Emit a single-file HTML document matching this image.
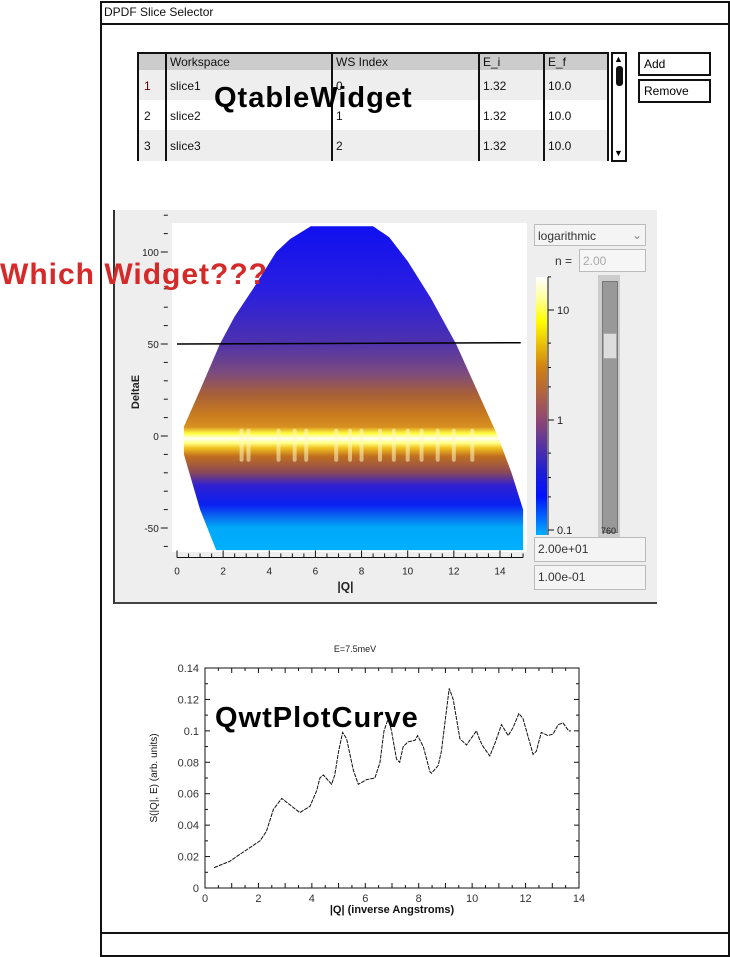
<!DOCTYPE html>
<html><head><meta charset="utf-8"><style>
body{margin:0;width:730px;height:957px;background:#fff;position:relative;overflow:hidden;font-family:"Liberation Sans",sans-serif;}
.a{position:absolute;}
.t{font-size:12px;color:#111;}
.btn{position:absolute;border:2px solid #111;background:#fff;font-size:12px;padding:3px 4px;box-sizing:border-box;}
.spin{position:absolute;border:1px solid #bbb;background:#f4f4f4;font-size:12px;color:#333;box-sizing:border-box;padding:4px 3px;}
</style></head><body>
<div class="a" style="left:100px;top:1px;width:626px;height:952px;border:2px solid #111;"></div>
<div class="a" style="left:100px;top:1px;width:628px;height:22px;border-bottom:2px solid #111;"></div>
<div class="a t" style="left:104px;top:5px;">DPDF Slice Selector</div>
<div class="a" style="left:100px;top:932px;width:628px;height:2px;background:#111;"></div>

<div class="a" style="left:137px;top:52px;width:472px;height:109px;border:2px solid #111;box-sizing:border-box;background:#fff;">
 <div class="a" style="left:0;top:0;width:468px;height:16px;background:#ccc;"></div>
 <div class="a" style="left:0;top:16px;width:468px;height:30px;background:#eee;"></div>
 <div class="a" style="left:0;top:76px;width:468px;height:31px;background:#eee;"></div>
 <div class="a" style="left:26px;top:0;width:2px;height:107px;background:#111;"></div>
 <div class="a" style="left:192px;top:0;width:2px;height:107px;background:#111;"></div>
 <div class="a" style="left:339px;top:0;width:2px;height:107px;background:#111;"></div>
 <div class="a" style="left:404px;top:0;width:2px;height:107px;background:#111;"></div>
 <div class="a t" style="left:31px;top:1px;">Workspace</div><div class="a t" style="left:197px;top:1px;">WS Index</div><div class="a t" style="left:344px;top:1px;">E_i</div><div class="a t" style="left:409px;top:1px;">E_f</div>
 <div class="a t" style="left:5px;top:25px;color:#600">1</div><div class="a t" style="left:31px;top:25px;">slice1</div><div class="a t" style="left:197px;top:25px;">0</div><div class="a t" style="left:344px;top:25px;">1.32</div><div class="a t" style="left:409px;top:25px;">10.0</div>
 <div class="a t" style="left:5px;top:55px;">2</div><div class="a t" style="left:31px;top:55px;">slice2</div><div class="a t" style="left:197px;top:55px;">1</div><div class="a t" style="left:344px;top:55px;">1.32</div><div class="a t" style="left:409px;top:55px;">10.0</div>
 <div class="a t" style="left:5px;top:85px;">3</div><div class="a t" style="left:31px;top:85px;">slice3</div><div class="a t" style="left:197px;top:85px;">2</div><div class="a t" style="left:344px;top:85px;">1.32</div><div class="a t" style="left:409px;top:85px;">10.0</div>
</div>
<div class="a" style="left:611px;top:52px;width:16px;height:110px;border:2px solid #111;box-sizing:border-box;background:#fff;">
 <div class="a" style="left:1px;top:0;font-size:9px;">▲</div>
 <div class="a" style="left:3px;top:12px;width:7px;height:20px;background:#111;border-radius:3px;"></div>
 <div class="a" style="left:1px;top:94px;font-size:9px;">▼</div>
</div>
<div class="btn" style="left:638px;top:52px;width:73px;height:24px;">Add</div>
<div class="btn" style="left:638px;top:79px;width:73px;height:24px;">Remove</div>
<div class="a" style="left:214px;top:82px;font-size:29px;font-weight:bold;letter-spacing:1px;">QtableWidget</div>

<div class="a" style="left:113px;top:210px;width:542px;height:392px;background:#eee;border-left:2px solid #333;border-bottom:2px solid #444;"></div>
<svg class="a" style="left:113px;top:210px" width="542" height="394" id="hm"></svg>
<div class="spin" style="left:534px;top:224px;width:112px;height:22px;">logarithmic<span style="position:absolute;right:3px;top:3px;color:#888">⌄</span></div>
<div class="a t" style="left:555px;top:254px;color:#333">n =</div>
<div class="spin" style="left:579px;top:249px;width:67px;height:23px;color:#aaa;background:#f6f6f6;">2.00</div>
<div class="a" style="left:598px;top:275px;width:22px;height:264px;background:#ccc;">
 <div class="a" style="left:4px;top:6px;width:14px;height:250px;background:#999;border:1px solid #777;"></div>
 <div class="a" style="left:5px;top:58px;width:12px;height:24px;background:#ddd;border:1px solid #aaa;"></div>
 <div class="a" style="left:3px;top:251px;font-size:9px;color:#222">760</div>
</div>
<div class="spin" style="left:534px;top:537px;width:112px;height:25px;">2.00e+01</div>
<div class="spin" style="left:534px;top:565px;width:112px;height:25px;">1.00e-01</div>
<div class="a" style="left:0px;top:258px;font-size:30px;font-weight:bold;color:#d42a2a;letter-spacing:1px;">Which Widget???</div>

<svg class="a" style="left:0;top:630px" width="730" height="300" id="lp"></svg>
<div class="a" style="left:215px;top:702px;font-size:29px;font-weight:bold;letter-spacing:1px;">QwtPlotCurve</div>

<script>
// ---- line chart data ----
const qVals=[0.34,0.93,1.18,2.06,2.3,2.56,2.87,3.55,3.93,4.18,4.3,4.43,4.74,4.86,4.99,5.15,5.3,5.55,5.74,6.05,6.36,6.55,6.7,6.86,6.98,7.17,7.29,7.42,7.6,7.86,7.96,8.17,8.42,8.48,8.73,8.85,8.98,9.14,9.29,9.54,9.79,10.16,10.29,10.41,10.66,10.85,11.1,11.35,11.53,11.75,11.9,12.28,12.4,12.59,12.84,13.03,13.22,13.4,13.62,13.7];
const sVals=[0.013,0.017,0.020,0.030,0.036,0.050,0.057,0.048,0.052,0.062,0.070,0.072,0.066,0.072,0.086,0.099,0.095,0.075,0.066,0.069,0.070,0.080,0.100,0.108,0.100,0.082,0.080,0.090,0.093,0.094,0.097,0.090,0.074,0.073,0.078,0.087,0.105,0.127,0.120,0.095,0.091,0.100,0.094,0.090,0.084,0.092,0.104,0.097,0.102,0.111,0.108,0.085,0.087,0.099,0.097,0.098,0.104,0.105,0.100,0.100];
const xTicks=[0,2,4,6,8,10,12,14];
const yTicks=[0,0.02,0.04,0.06,0.08,0.1,0.12,0.14];
const yTickLabels=["0","0.02","0.04","0.06","0.08","0.1","0.12","0.14"];
// ---- heatmap axes data ----
const hmXTicks=[0,2,4,6,8,10,12,14];
const hmYTicks=[-50,0,50,100];
const cbTicks=[0.1,1,10];
const cbTickLabels=["0.1","1","10"];
const sliceE=[50];
const braggQ=[2.8,3.1,4.4,5.1,5.6,6.9,7.5,8.0,8.8,9.4,10.0,10.6,11.3,12.0,12.8];

const NS="http://www.w3.org/2000/svg";
function mk(p,tag,attrs){const e=document.createElementNS(NS,tag);for(const k in attrs)e.setAttribute(k,attrs[k]);p.appendChild(e);return e;}

(function(){
const svg=document.getElementById('lp');
const X0=205,X1=579,Y0=258,Y1=38;
const xs=q=>X0+(q/14)*(X1-X0), ys=v=>Y0-(v/0.14)*(Y0-Y1);
const f='font-family:"Liberation Sans",sans-serif;';
let t=mk(svg,'text',{x:355,y:22,'text-anchor':'middle','font-size':'9','style':f,fill:'#222'});t.textContent='E=7.5meV';

const box=mk(svg,'rect',{x:X0,y:Y1,width:X1-X0,height:Y0-Y1,fill:'none',stroke:'#111','stroke-width':1});

for(let i=0;i<=28;i++){const v=i*0.5,x=xs(v),l=i%2?3:5;mk(svg,'line',{x1:x,y1:Y0,x2:x,y2:Y0-l,stroke:'#111'});mk(svg,'line',{x1:x,y1:Y1,x2:x,y2:Y1+l,stroke:'#111'});}
for(let i=0;i<=14;i++){const v=i*0.01,y=ys(v),l=i%2?3:5;mk(svg,'line',{x1:X0,y1:y,x2:X0+l,y2:y,stroke:'#111'});mk(svg,'line',{x1:X1,y1:y,x2:X1-l,y2:y,stroke:'#111'});}
xTicks.forEach(v=>{const e=mk(svg,'text',{x:xs(v),y:Y0+14,'text-anchor':'middle','font-size':'11',style:f,fill:'#333'});e.textContent=v;
});
yTicks.forEach((v,i)=>{const e=mk(svg,'text',{x:X0-6,y:ys(v)+4,'text-anchor':'end','font-size':'11',style:f,fill:'#333'});e.textContent=yTickLabels[i];
});
let xt=mk(svg,'text',{x:392,y:283,'text-anchor':'middle','font-size':'11','font-weight':'bold',style:f,fill:'#111'});xt.textContent='|Q| (inverse Angstroms)';

let yt=mk(svg,'text',{x:0,y:0,'text-anchor':'middle','font-size':'10',style:f,fill:'#111',transform:'translate(157,148) rotate(-90)'});yt.textContent='S(|Q|, E) (arb. units)';

const d=qVals.map((q,i)=>(i?'L':'M')+xs(q).toFixed(1)+','+ys(sVals[i]).toFixed(1)).join(' ');
const p=mk(svg,'path',{d:d,fill:'none',stroke:'#111','stroke-width':1,'stroke-dasharray':'4,1'});

})();

(function(){
const svg=document.getElementById('hm');
const ox=113,oy=210;
const xs=q=>177-ox+q*23.07, ys=e=>436-oy-e*1.84;
const f='font-family:"Liberation Sans",sans-serif;';
const defs=mk(svg,'defs',{});
const g=mk(defs,'linearGradient',{id:'hg',x1:0,y1:ys(114),x2:0,y2:ys(-62),gradientUnits:'userSpaceOnUse'});
[[0,'#1010f0'],[0.2,'#2a1ee0'],[0.35,'#4a30b0'],[0.45,'#7a4a80'],[0.52,'#a86038'],[0.58,'#c87a20'],[0.62,'#d89020'],[0.64,'#ffff40'],[0.655,'#fffff0'],[0.67,'#ffff80'],[0.685,'#f0c020'],[0.71,'#c0701e'],[0.76,'#8a4858'],[0.80,'#3020d0'],[0.86,'#0a20f0'],[0.9,'#0a70f0'],[0.93,'#00a8f8'],[1,'#00b0ff']].forEach(s=>mk(g,'stop',{offset:s[0],'stop-color':s[1]}));
const cg=mk(defs,'linearGradient',{id:'cg',x1:0,y1:0,x2:0,y2:1});
[[0,'#ffffff'],[0.08,'#ffffa0'],[0.17,'#ffff00'],[0.35,'#d08010'],[0.55,'#904870'],[0.75,'#2020d0'],[0.85,'#0010ff'],[1,'#00b0ff']].forEach(s=>mk(cg,'stop',{offset:s[0],'stop-color':s[1]}));
const plot=mk(svg,'rect',{x:172-ox,y:223-oy,width:355,height:329,fill:'#fff'});

const env=[[0.3,5],[1.0,25],[1.86,50],[2.5,65],[3.3,80],[4.3,100],[4.9,107],[5.8,114],[8.5,114],[9.2,108],[10.0,95],[11.0,75],[12.1,50],[13.0,25],[13.9,0],[14.5,-20],[15,-40],[15,-62],[1.7,-62],[1.0,-40],[0.3,-10]];
const poly=mk(svg,'polygon',{points:env.map(p=>xs(p[0]).toFixed(1)+','+ys(p[1]).toFixed(1)).join(' '),fill:'url(#hg)'});

braggQ.forEach(q=>{const r=mk(svg,'rect',{x:xs(q)-2,y:ys(4),width:4,height:ys(-14)-ys(4),fill:'#fff8c0',opacity:0.55,rx:2});
});
sliceE.forEach(e=>{const l=mk(svg,'line',{x1:xs(0),y1:ys(e),x2:xs(14.9),y2:ys(e+0.7),stroke:'#000','stroke-width':1.5});
});
mk(svg,'line',{x1:xs(0),y1:ys(-66),x2:xs(15),y2:ys(-66),stroke:'#111'});
for(let i=0;i<=30;i++){const x=xs(i*0.5);mk(svg,'line',{x1:x,y1:ys(-66),x2:x,y2:ys(-66)+(i%4==0?-7:-4),stroke:'#111'});}
hmXTicks.forEach(v=>{const e=mk(svg,'text',{x:xs(v),y:ys(-66)+17,'text-anchor':'middle','font-size':'10',style:f,fill:'#222'});e.textContent=v;
});
for(let v=-60;v<=120;v+=10){mk(svg,'line',{x1:xs(-0.4),y1:ys(v),x2:xs(-0.4)-(v%50==0?7:4),y2:ys(v),stroke:'#111'});}
hmYTicks.forEach(v=>{const e=mk(svg,'text',{x:xs(-0.4)-9,y:ys(v)+4,'text-anchor':'end','font-size':'10',style:f,fill:'#222'});e.textContent=v;
});
let xt=mk(svg,'text',{x:xs(7.3),y:ys(-66)+33,'text-anchor':'middle','font-size':'12','font-weight':'bold',style:f,fill:'#222'});xt.textContent='|Q|';

let yt=mk(svg,'text',{x:0,y:0,'text-anchor':'middle','font-size':'11','font-weight':'bold',style:f,fill:'#222',transform:'translate(26,182) rotate(-90)'});yt.textContent='DeltaE';

const cb=mk(svg,'rect',{x:536-ox,y:277-oy,width:11,height:258,fill:'url(#cg)'});

const cy=v=>530-oy-(Math.log10(v)+1)*110;
mk(svg,'line',{x1:548-ox,y1:277-oy,x2:548-ox,y2:535-oy,stroke:'#111'});
[0.1,0.2,0.3,0.5,1,2,3,5,10,20].forEach(v=>{if(cy(v)>=277-oy-1)mk(svg,'line',{x1:548-ox,y1:cy(v),x2:548-ox+([0.1,1,10].includes(v)?6:3),y2:cy(v),stroke:'#111'});});
cbTicks.forEach((v,i)=>{const e=mk(svg,'text',{x:557-ox,y:cy(v)+4,'font-size':'11',style:f,fill:'#222'});e.textContent=cbTickLabels[i];
});
})();
</script>
</body></html>
